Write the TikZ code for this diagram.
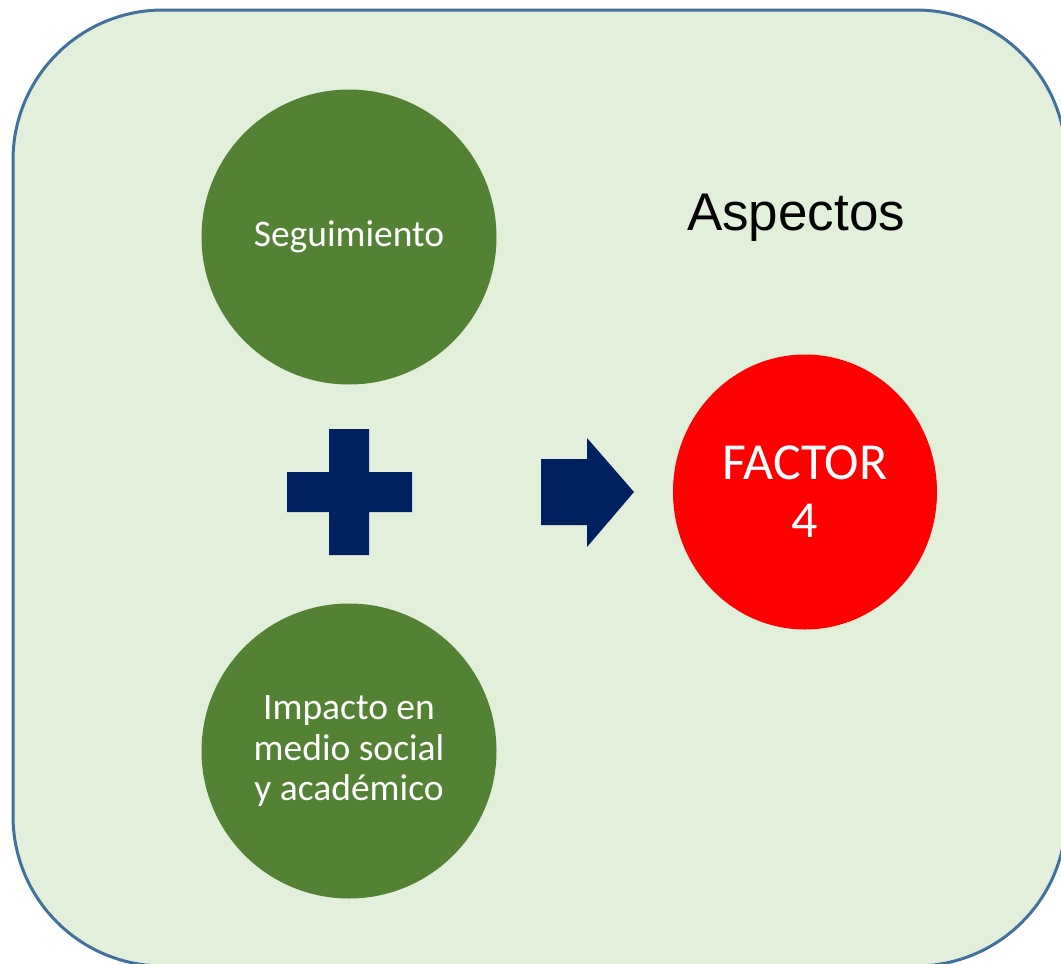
\documentclass[tikz,border=0pt]{standalone}
\usepackage{fontspec}
\setmainfont{Carlito}
\newfontfamily\arialfont{Liberation Sans}
\usetikzlibrary{shapes.geometric}
\definecolor{panelfill}{HTML}{E2EFDA}
\definecolor{panelline}{HTML}{41719C}
\definecolor{greencirc}{HTML}{548235}
\definecolor{navy}{HTML}{002060}
\definecolor{redcirc}{HTML}{FF0000}
\tikzset{
  panel/.style={fill=panelfill, draw=panelline, line width=3pt, rounded corners=150pt},
  greenball/.style={circle, fill=greencirc, minimum size=295pt, inner sep=0pt, text=white, align=center, font=\fontsize{37.5}{40.5}\selectfont},
  redball/.style={ellipse, fill=redcirc, minimum width=264pt, minimum height=275pt, inner sep=0pt, text=white, align=center, font=\fontsize{52}{58}\selectfont},
  navyshape/.style={fill=navy, draw=none},
  titletext/.style={font=\arialfont\fontsize{53}{60}\selectfont, text=black}
}
\begin{document}
\begin{tikzpicture}[x=1pt,y=-1pt]
\useasboundingbox (0,0) rectangle (1061,964);
\draw[panel] (13,10) rectangle (1066,966);
\node[greenball] (seg) at (349,237) {Seguimiento};
\node[greenball] (imp) at (349,751) {Impacto en\\medio social\\y académico};
\node[redball] (fac) at (805,492) {FACTOR\\4};
\node[titletext] (asp) at (796,218) {Aspectos};
% plus sign
\fill[navyshape] (329,429) -- (369,429) -- (369,472) -- (412,472) -- (412,512) -- (369,512) -- (369,555) -- (329,555) -- (329,512) -- (287,512) -- (287,472) -- (329,472) -- cycle;
% block arrow
\fill[navyshape] (541,459) -- (587,459) -- (587,438) -- (634,492) -- (587,547) -- (587,525) -- (541,525) -- cycle;
\end{tikzpicture}
\end{document}
